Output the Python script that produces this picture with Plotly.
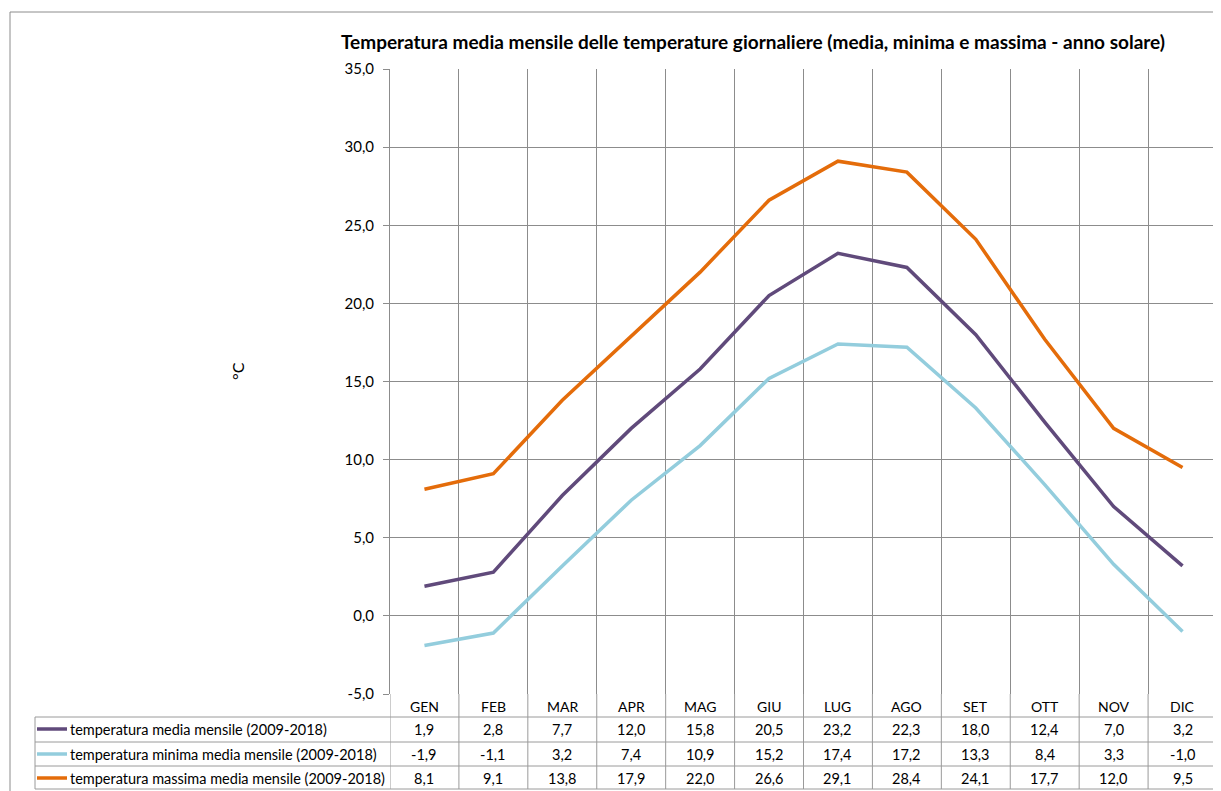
import plotly.graph_objects as go

mesi = ["GEN", "FEB", "MAR", "APR", "MAG", "GIU", "LUG", "AGO", "SET", "OTT", "NOV", "DIC"]
t_media = [1.9, 2.8, 7.7, 12.0, 15.8, 20.5, 23.2, 22.3, 18.0, 12.4, 7.0, 3.2]
t_minima = [-1.9, -1.1, 3.2, 7.4, 10.9, 15.2, 17.4, 17.2, 13.3, 8.4, 3.3, -1.0]
t_massima = [8.1, 9.1, 13.8, 17.9, 22.0, 26.6, 29.1, 28.4, 24.1, 17.7, 12.0, 9.5]
y_ticks = [-5, 0, 5, 10, 15, 20, 25, 30, 35]

nomi = [
    "temperatura media mensile (2009-2018)",
    "temperatura minima media mensile (2009-2018)",
    "temperatura massima media mensile (2009-2018)",
]
serie = [t_media, t_minima, t_massima]
colori = ["#604A7B", "#93CDDD", "#E46C0A"]

FONT = "Lato"
GRID = "#8C8C8C"

def fmt(v):
    # formato italiano con la virgola e il trattino normale
    return f"{v:.1f}".replace(".", ",")

# la pagina ha un margine di 8px: le coordinate qui sotto sono quelle
# dello schermo, poi spostate
OFF = 8
W_FIG, H_FIG = 1221 - OFF, 791 - OFF
L, R, T, B = 390 - OFF, 1217 - OFF, 69 - OFF, 694 - OFF

def px_x(X):
    return (X - OFF - L) / (R - L)

def px_y(Y):
    return (B - (Y - OFF)) / (B - T)

fig = go.Figure()
for nome, valori, col in zip(nomi, serie, colori):
    fig.add_trace(go.Scatter(
        x=mesi, y=valori, name=nome, mode="lines",
        line=dict(color=col, width=3.5), showlegend=False
    ))

shapes = []
annotations = []

# bordo esterno del grafico
shapes.append(dict(type="rect", xref="paper", yref="paper",
                   x0=px_x(10), x1=px_x(1240), y0=px_y(12), y1=px_y(810),
                   line=dict(color="#8C8C8C", width=1), layer="below"))

# righe orizzontali della tabella
righe_y = [717, 742, 766, 789]
for Y in righe_y:
    shapes.append(dict(type="line", xref="paper", yref="paper",
                       x0=px_x(35), x1=1, y0=px_y(Y), y1=px_y(Y),
                       line=dict(color="#9A9A9A", width=1)))
# colonna della legenda
shapes.append(dict(type="line", xref="paper", yref="paper",
                   x0=px_x(35), x1=px_x(35), y0=px_y(717), y1=px_y(789),
                   line=dict(color="#9A9A9A", width=1)))
# verticali della tabella (confini dei mesi)
for i in range(len(mesi) + 1):
    shapes.append(dict(type="line", xref="x", yref="paper",
                       x0=i - 0.5, x1=i - 0.5, y0=0, y1=px_y(789),
                       line=dict(color="#9A9A9A", width=1)))

# intestazione mesi
for m in mesi:
    annotations.append(dict(x=m, y=px_y(706), xref="x", yref="paper",
                            text=m, showarrow=False, xanchor="center", yanchor="middle",
                            font=dict(family=FONT, size=14, color="#000")))

# righe della tabella
righe_c = [729, 754, 778]
for nome, valori, col, Yc in zip(nomi, serie, colori, righe_c):
    shapes.append(dict(type="line", xref="paper", yref="paper",
                       x0=px_x(37), x1=px_x(67), y0=px_y(Yc), y1=px_y(Yc),
                       line=dict(color=col, width=3.5)))
    annotations.append(dict(x=px_x(68), y=px_y(Yc), xref="paper", yref="paper",
                            text=nome, showarrow=False, xanchor="left", yanchor="middle",
                            font=dict(family=FONT, size=14.5, color="#000")))
    for m, v in zip(mesi, valori):
        annotations.append(dict(x=m, y=px_y(Yc), xref="x", yref="paper",
                                text=fmt(v), showarrow=False,
                                xanchor="center", yanchor="middle",
                                font=dict(family=FONT, size=14.5, color="#000")))

# titolo asse y
annotations.append(dict(x=px_x(237), y=px_y(371), xref="paper", yref="paper",
                        text="°C", textangle=-90, showarrow=False,
                        xanchor="center", yanchor="middle",
                        font=dict(family=FONT, size=16, color="#000")))

fig.update_layout(
    width=W_FIG, height=H_FIG,
    margin=dict(l=L, r=W_FIG - R, t=T, b=H_FIG - B),
    paper_bgcolor="white", plot_bgcolor="white",
    title=dict(text="<b>Temperatura media mensile delle temperature giornaliere (media, minima e massima - anno solare)</b>",
               x=px_x(753), xanchor="center", xref="paper", y=1 - (42 - OFF) / H_FIG, yanchor="middle",
               font=dict(family=FONT, size=19, color="#000")),
    xaxis=dict(type="category", tickson="boundaries", showticklabels=False,
               showgrid=True, gridcolor=GRID, gridwidth=1, ticks="",
               range=[-0.5, len(mesi) - 0.5], showline=False, zeroline=False),
    yaxis=dict(range=[-5, 35], tickvals=y_ticks, ticktext=[fmt(v) for v in y_ticks],
               showgrid=True, gridcolor=GRID, gridwidth=1, ticks="outside", ticklen=6,
               tickcolor=GRID, showline=True, linecolor=GRID, zeroline=False,
               ticklabelstandoff=6,
               tickfont=dict(family=FONT, size=15, color="#000")),
    shapes=shapes,
    annotations=annotations,
)

fig.write_html("out.html")
